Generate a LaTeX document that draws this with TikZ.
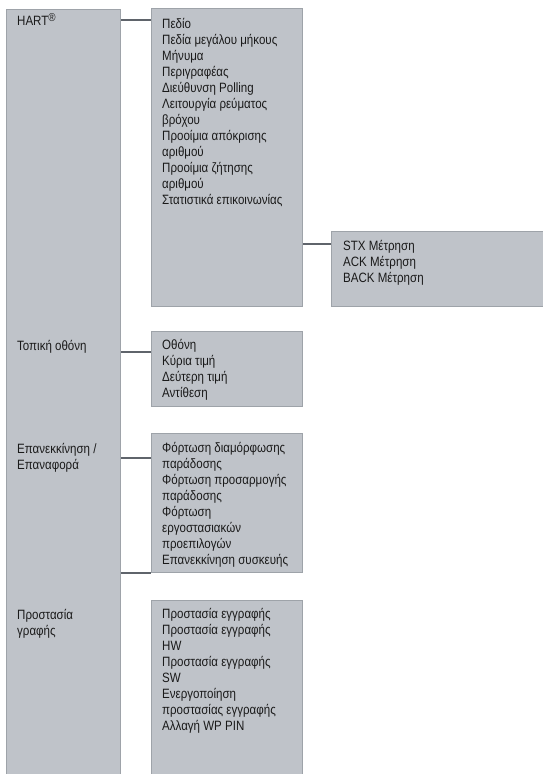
\documentclass[tikz,border=0pt]{standalone}
\usepackage{fontspec}
\setmainfont{Liberation Sans}[FakeStretch=0.855]
\definecolor{boxfill}{HTML}{BFC3C9}
\definecolor{boxline}{HTML}{9EA3A9}
\definecolor{connline}{HTML}{5F646B}
\definecolor{ink}{HTML}{1A1A1A}
\newcommand{\regmark}{\raisebox{4pt}{\fontsize{11.5}{11.5}\selectfont ®}}
\begin{document}
\begin{tikzpicture}[x=1pt,y=-1pt,
  panel/.style={draw=boxline,line width=1pt,fill=boxfill,anchor=north west,inner sep=0pt},
  entry/.style={anchor=north west,inner sep=0pt,align=left,text=ink,
    font=\fontsize{13.5}{16}\selectfont},
  conn/.style={draw=connline,line width=2.7pt}]
\useasboundingbox (0,0) rectangle (542,774);

% column boxes
\node[panel,minimum width=114pt,minimum height=768pt] (L) at (6,9) {};
\node[panel,minimum width=151pt,minimum height=298pt] (M1) at (151,8) {};
\node[panel,minimum width=151pt,minimum height=75pt]  (M2) at (151,331) {};
\node[panel,minimum width=151pt,minimum height=139pt] (M3) at (151,433) {};
\node[panel,minimum width=151pt,minimum height=176pt] (M4) at (151,600) {};
\node[panel,minimum width=212pt,minimum height=75pt]  (S)  at (331,231) {};

% left column labels
\node[entry] (hart) at (17,13) {HART\regmark};
\node[entry] (local) at (17,340) {Τοπική οθόνη};
\node[entry] (reset) at (17,443) {Επανεκκίνηση /\\Επαναφορά};
\node[entry] (wprot) at (17,609) {Προστασία\\γραφής};

% submenu lists
\node[entry] (m1t) at (162,18.5) {Πεδίο\\Πεδία μεγάλου μήκους\\Μήνυμα\\Περιγραφέας\\Διεύθυνση Polling\\Λειτουργία ρεύματος\\βρόχου\\Προοίμια απόκρισης\\αριθμού\\Προοίμια ζήτησης\\αριθμού\\Στατιστικά επικοινωνίας};
\node[entry] (st) at (343,240.5) {STX Μέτρηση\\ACK Μέτρηση\\BACK Μέτρηση};
\node[entry] (m2t) at (162,339.5) {Οθόνη\\Κύρια τιμή\\Δεύτερη τιμή\\Αντίθεση};
\node[entry] (m3t) at (162,442.5) {Φόρτωση διαμόρφωσης\\παράδοσης\\Φόρτωση προσαρμογής\\παράδοσης\\Φόρτωση\\εργοστασιακών\\προεπιλογών\\Επανεκκίνηση συσκευής};
\node[entry] (m4t) at (162,608.5) {Προστασία εγγραφής\\Προστασία εγγραφής\\HW\\Προστασία εγγραφής\\SW\\Ενεργοποίηση\\προστασίας εγγραφής\\Αλλαγή WP PIN};

% connectors
\draw[conn] (L.east |- 0,20) -- (M1.west |- 0,20);
\draw[conn] (M1.east |- 0,244) -- (S.west |- 0,244);
\draw[conn] (L.east |- 0,352) -- (M2.west |- 0,352);
\draw[conn] (L.east |- 0,458) -- (M3.west |- 0,458);
\draw[conn] (L.east |- 0,573) -- (M3.west |- 0,573);
\end{tikzpicture}
\end{document}
